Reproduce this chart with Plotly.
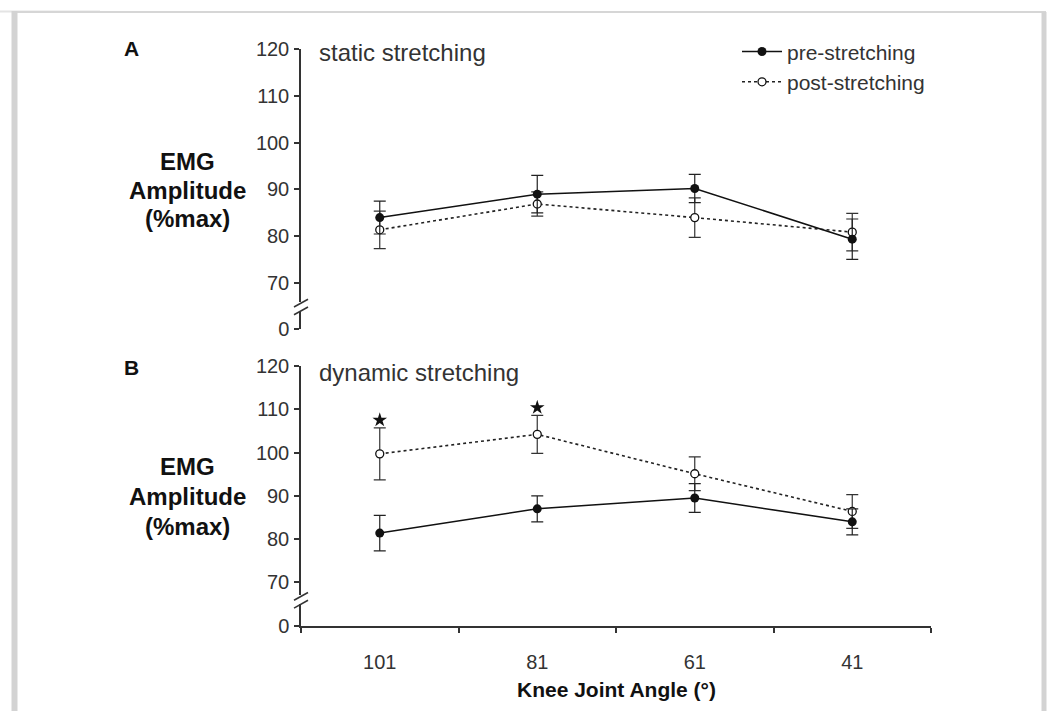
import plotly.graph_objects as go

# Knee joint angles (degrees) and EMG amplitude (% of max), mean and error
angles = ["101", "81", "61", "41"]

static_pre = [84.0, 89.0, 90.2, 79.4]
static_pre_err = [3.5, 4.0, 3.0, 4.3]
static_post = [81.4, 86.9, 84.0, 80.9]
static_post_err = [4.0, 2.6, 4.2, 4.0]

dynamic_pre = [81.4, 87.0, 89.5, 84.0]
dynamic_pre_err = [4.1, 3.0, 3.3, 3.0]
dynamic_post = [99.7, 104.2, 95.1, 86.4]
dynamic_post_err = [6.0, 4.4, 3.9, 3.9]

# significant pre/post difference in the dynamic condition
dynamic_significant = [True, True, False, False]

y_ticks = [70, 80, 90, 100, 110, 120]

W, H = 1050, 722
FONT = "Liberation Sans, Arial, sans-serif"
INK = "#333333"


def fx(px):
    return px / W


def fy(py):
    return 1 - py / H


fig = go.Figure()


def add_series(x_ax, y_ax, pre, pre_err, post, post_err, show_legend):
    fig.add_trace(go.Scatter(
        x=angles, y=post, xaxis=x_ax, yaxis=y_ax, mode="lines+markers",
        name="post-stretching", legendrank=2, showlegend=show_legend,
        line=dict(color="#222222", width=1.6, dash="dot"),
        marker=dict(symbol="circle", size=8, color="white",
                    line=dict(color="#111111", width=1.3)),
        error_y=dict(type="data", array=post_err, visible=True,
                     color="#333333", thickness=1.2, width=6),
    ))
    fig.add_trace(go.Scatter(
        x=angles, y=pre, xaxis=x_ax, yaxis=y_ax, mode="lines+markers",
        name="pre-stretching", legendrank=1, showlegend=show_legend,
        line=dict(color="#111111", width=1.5),
        marker=dict(symbol="circle", size=9, color="#111111"),
        error_y=dict(type="data", array=pre_err, visible=True,
                     color="#222222", thickness=1.2, width=6),
    ))


add_series("x", "y", static_pre, static_pre_err, static_post, static_post_err, True)
add_series("x2", "y3", dynamic_pre, dynamic_pre_err, dynamic_post, dynamic_post_err, False)

# significance stars above the post-stretching error bars
star_x = [a for a, s in zip(angles, dynamic_significant) if s]
star_y = [m + e + 1.8 for m, e, s in zip(dynamic_post, dynamic_post_err, dynamic_significant) if s]
fig.add_trace(go.Scatter(
    x=star_x, y=star_y, xaxis="x2", yaxis="y3", mode="markers", showlegend=False,
    marker=dict(symbol="star", size=11, color="#111111"), hoverinfo="skip",
))

# placeholders so the short "0" axis segments get their own subplots
fig.add_trace(go.Scatter(x=[], y=[], xaxis="x", yaxis="y2", showlegend=False))
fig.add_trace(go.Scatter(x=[], y=[], xaxis="x2", yaxis="y4", showlegend=False))

x_dom = [fx(301), fx(931)]
tickfont = dict(family=FONT, size=20, color=INK)

y_common = dict(
    showline=True, linecolor=INK, linewidth=1.5, ticks="outside", ticklen=5,
    tickcolor=INK, tickwidth=1.5, tickfont=tickfont, showgrid=False,
    zeroline=False, ticklabelstandoff=1, fixedrange=True,
)

# vertical pixel layout (top of figure = 0)
A_TOP, A_70, A_BREAK = 39.0, 280.8, 300.3       # panel A: 120, 70, end of upper segment
A_LOW_TOP, A_ZERO = 310.6, 328.1                # panel A: short segment holding 0
B_TOP, B_70, B_BREAK = 366.1, 589.4, 602.8      # panel B
B_LOW_TOP, B_ZERO = 612.0, 634.7

a_scale = (A_70 - A_TOP) / 50.0   # px per unit
b_scale = (B_70 - B_TOP) / 50.0

fig.update_layout(
    width=W, height=H,
    margin=dict(l=0, r=0, t=0, b=0),
    paper_bgcolor="white", plot_bgcolor="rgba(0,0,0,0)",
    font=dict(family=FONT, color=INK),
    xaxis=dict(domain=x_dom, anchor="y", type="category", categoryarray=angles,
               range=[-0.5, 3.5], visible=False),
    xaxis2=dict(domain=x_dom, anchor="y4", type="category", categoryarray=angles,
                range=[-0.5, 3.5], showline=True, linecolor=INK, linewidth=1.5,
                ticks="outside", tickson="boundaries", ticklen=5, tickcolor=INK,
                tickwidth=1.5, tickfont=tickfont, showgrid=False, zeroline=False,
                ticklabelstandoff=17),
    yaxis=dict(domain=[fy(A_BREAK), fy(A_TOP)], anchor="x",
               range=[120 - (A_BREAK - A_TOP) / a_scale, 120], tickvals=y_ticks, **y_common),
    yaxis2=dict(domain=[fy(A_ZERO), fy(A_LOW_TOP)], anchor="x",
                range=[0, (A_ZERO - A_LOW_TOP) / a_scale], tickvals=[0], **y_common),
    yaxis3=dict(domain=[fy(B_BREAK), fy(B_TOP)], anchor="x2",
                range=[120 - (B_BREAK - B_TOP) / b_scale, 120], tickvals=y_ticks, **y_common),
    yaxis4=dict(domain=[fy(B_ZERO), fy(B_LOW_TOP)], anchor="x2",
                range=[0, (B_ZERO - B_LOW_TOP) / b_scale], tickvals=[0], **y_common),
    legend=dict(x=fx(737), y=fy(21), xanchor="left", yanchor="top",
                font=dict(family=FONT, size=21, color=INK),
                bgcolor="rgba(0,0,0,0)", tracegroupgap=0, itemwidth=40),
    showlegend=True,
)

ann = []


def text(px, py, s, size, bold=False, xanchor="center"):
    ann.append(dict(
        x=fx(px), y=fy(py), xref="paper", yref="paper", text=f"<b>{s}</b>" if bold else s,
        showarrow=False, xanchor=xanchor, yanchor="middle",
        font=dict(family=FONT, size=size, color="#111111" if bold else INK),
    ))


text(131, 39.0, "A", 21, bold=True)
text(131, 367.2, "B", 21, bold=True)
text(317, 43.1, "static stretching", 24, xanchor="left")
text(317, 373.3, "dynamic stretching", 24, xanchor="left")
for rows in ((155.2, 185.1, 213.9), (470.1, 500.9, 531.8)):
    for cy, line in zip(rows, ("EMG", "Amplitude", "(%max)")):
        text(187, cy, line, 24, bold=True)
text(616, 699.5, "Knee Joint Angle (°)", 21, bold=True)
fig.update_layout(annotations=ann)

shapes = []


def seg(x0, y0, x1, y1, color=INK, width=1.5):
    shapes.append(dict(type="line", xref="paper", yref="paper",
                       x0=fx(x0), y0=fy(y0), x1=fx(x1), y1=fy(y1),
                       line=dict(color=color, width=width)))


# axis break marks
for brk in (A_BREAK, B_BREAK):
    seg(294, brk + 5, 308, brk - 3)
    seg(294, brk + 13, 308, brk + 5)

# page frame
seg(0, 0.5, 100, 0.5, color="#e4e4e4", width=2)
seg(17, 1, 1046, 1, color="#d6d6d6", width=2)
seg(14.5, 0, 14.5, 722, color="#d3d3d3", width=6)
seg(1044, 1, 1044, 722, color="#d3d3d3", width=5)
fig.update_layout(shapes=shapes)

fig.write_html("out.html")
